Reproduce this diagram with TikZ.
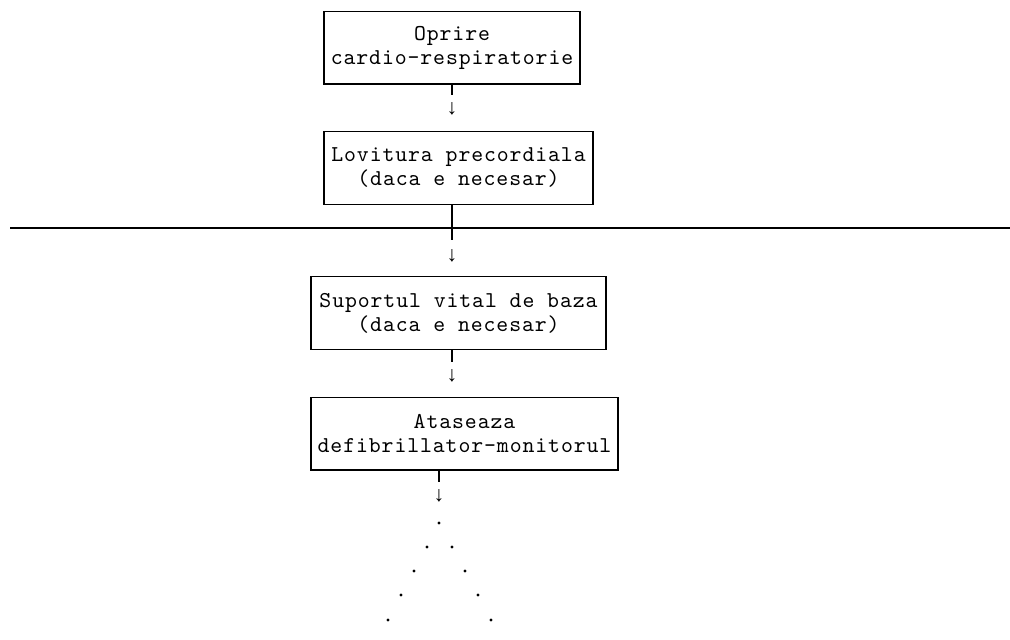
\documentclass[tikz,border=0pt]{standalone}
\usepackage{fontspec}
\newfontfamily\arrfont{Liberation Mono}
\newfontfamily\courlike[LetterSpace=4]{lmmono10-regular.otf}
\begin{document}
\begin{tikzpicture}[x=0.75pt,y=-0.75pt,
  txt/.style={font=\courlike\fontsize{17}{18}\selectfont, align=center, inner sep=0pt},
  box/.style={txt, draw, line width=1pt, minimum height=54.5pt},
  stub/.style={line width=1.2pt},
  arr/.style={font=\arrfont\fontsize{16}{18}\selectfont, inner sep=0pt},
  dot/.style={circle, fill, inner sep=0pt, minimum size=2.3pt}]
\useasboundingbox (0,0) rectangle (1010,639);
% boxes
\node[box, minimum width=192pt] (b1) at (452,47.5) {Oprire\\cardio-respiratorie};
\node[box, minimum width=201.75pt] (b2) at (458.5,168) {Lovitura precordiala\\(daca e necesar)};
\node[box, minimum width=221.25pt] (b3) at (458.5,313) {Suportul vital de baza\\(daca e necesar)};
\node[box, minimum width=230.25pt] (b4) at (464.5,433.5) {Ataseaza\\defibrillator-monitorul};
% arrows (glyphs)
\node[arr] (a1) at (452,109) {↓};
\node[arr] (a2) at (452,256) {↓};
\node[arr] (a3) at (452,376) {↓};
\node[arr] (a4) at (439,496) {↓};
% stub ends
\coordinate (s1) at (452,95);
\coordinate (s2) at (452,240);
\coordinate (s3) at (452,362);
\coordinate (s4) at (439,482);
\draw[stub] (b1.south -| s1) -- (s1);
\draw[stub] (b2.south -| s2) -- (s2);
\draw[stub] (b3.south -| s3) -- (s3);
\draw[stub] (b4.south -| s4) -- (s4);
% horizontal separator
\coordinate (hl) at (10,228);
\coordinate (hr) at (1010,228);
\draw[line width=1pt] (hl) -- (hr);
% dots
\node[dot] (d0) at (439,523) {};
\node[dot] (d1l) at (427,547) {};
\node[dot] (d1r) at (452,547) {};
\node[dot] (d2l) at (414,571) {};
\node[dot] (d2r) at (465,571) {};
\node[dot] (d3l) at (401,595) {};
\node[dot] (d3r) at (478,595) {};
\node[dot] (d4l) at (388,620) {};
\node[dot] (d4r) at (491,620) {};
\end{tikzpicture}
\end{document}
